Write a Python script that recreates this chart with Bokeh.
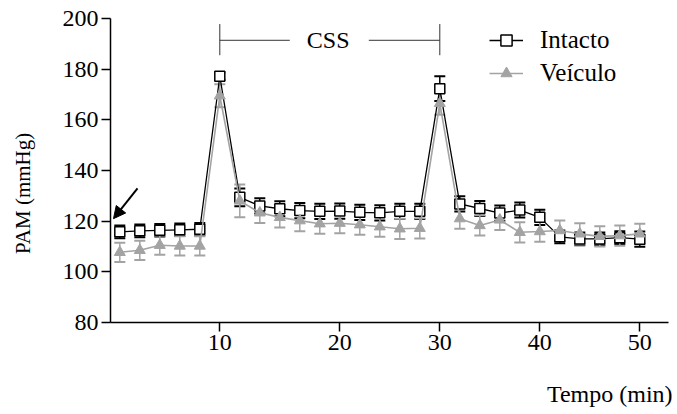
from bokeh.plotting import figure
from bokeh.models import (ColumnDataSource, Whisker, TeeHead, FixedTicker, Legend,
                          LegendItem, Label, Arrow, NormalHead, Range1d, LinearAxis)
from bokeh.embed import file_html
from bokeh.resources import INLINE

# sample index along the recording (plotted at even spacing)
sample = list(range(27))
tick_positions = [5, 11, 16, 21, 26]
tick_labels = ["10", "20", "30", "40", "50"]

intacto = [115.8, 116.2, 116.4, 116.6, 116.8, 177.2, 129.4, 126.0, 124.9, 124.2,
           123.9, 124.0, 123.5, 123.3, 123.9, 123.9, 172.3, 126.8, 125.0, 123.2,
           124.4, 121.5, 113.8, 113.0, 113.0, 113.5, 112.9]
intacto_sem = [2.5, 2.5, 2.5, 2.5, 2.5, 1.5, 3.5, 3.0, 3.0, 3.0,
               3.0, 3.0, 3.0, 3.0, 3.0, 3.0, 4.9, 3.0, 3.0, 3.0,
               3.0, 3.0, 2.5, 2.5, 2.5, 2.5, 3.0]
veiculo = [107.7, 108.5, 110.5, 110.2, 110.2, 169.5, 128.0, 123.3, 121.5, 120.2,
           119.0, 119.2, 118.6, 117.8, 117.0, 117.2, 166.5, 121.0, 118.3, 120.5,
           115.6, 115.9, 116.3, 115.0, 114.0, 114.3, 115.0]
veiculo_sem = [3.8, 3.8, 3.8, 3.8, 3.8, 4.5, 6.5, 4.0, 4.0, 4.2,
               4.0, 4.0, 4.0, 4.0, 4.0, 4.0, 4.5, 4.0, 4.0, 4.0,
               4.0, 4.0, 4.0, 4.2, 4.0, 4.0, 4.0]

x_title = "Tempo (min)"
y_title = "PAM (mmHg)"

GRAY = "#a3a3a3"
FONT = "'Liberation Serif', 'Times New Roman', Times, serif"
FS = "24px"

src_i = ColumnDataSource(dict(x=sample, y=intacto,
                              lo=[v - e for v, e in zip(intacto, intacto_sem)],
                              hi=[v + e for v, e in zip(intacto, intacto_sem)]))
src_v = ColumnDataSource(dict(x=sample, y=veiculo,
                              lo=[v - e for v, e in zip(veiculo, veiculo_sem)],
                              hi=[v + e for v, e in zip(veiculo, veiculo_sem)]))

p = figure(width=677, height=414, output_backend="svg", toolbar_location=None,
           x_range=Range1d(-0.465, 27.435), y_range=Range1d(80, 200),
           min_border_left=110, min_border_right=9, min_border_top=18,
           min_border_bottom=92, title=None)
p.grid.visible = False
p.outline_line_color = None
p.background_fill_color = "white"
p.border_fill_color = "white"

for ax in (p.xaxis[0], p.yaxis[0]):
    ax.axis_line_width = 1.5
    ax.axis_line_color = "black"
    ax.major_tick_line_width = 1.5
    ax.major_tick_line_color = "black"
    ax.major_tick_out = 9
    ax.major_tick_in = 0
    ax.minor_tick_line_color = None
    ax.major_label_text_font = FONT
    ax.major_label_text_font_size = FS
    ax.major_label_text_color = "black"

p.xaxis[0].ticker = FixedTicker(ticks=tick_positions)
p.xaxis[0].major_label_overrides = {t: l for t, l in zip(tick_positions, tick_labels)}
p.xaxis[0].major_label_standoff = 3
p.yaxis[0].ticker = FixedTicker(ticks=[80, 100, 120, 140, 160, 180, 200])
p.yaxis[0].major_label_standoff = 3

# axis titles placed as single-label outer axes (right-aligned x title, offset y title)
x_title_pos = 24.5
y_title_pos = 131
xt = LinearAxis(ticker=FixedTicker(ticks=[x_title_pos]),
                major_label_overrides={x_title_pos: x_title},
                axis_line_color=None, major_tick_line_color=None,
                minor_tick_line_color=None, major_tick_out=0, major_tick_in=0,
                major_label_standoff=28,
                major_label_text_font=FONT, major_label_text_font_size=FS,
                major_label_text_color="black")
p.add_layout(xt, "below")
yt = LinearAxis(ticker=FixedTicker(ticks=[y_title_pos]),
                major_label_overrides={y_title_pos: y_title},
                major_label_orientation="vertical",
                axis_line_color=None, major_tick_line_color=None,
                minor_tick_line_color=None, major_tick_out=0, major_tick_in=0,
                major_label_standoff=24,
                major_label_text_font=FONT, major_label_text_font_size="21px",
                major_label_text_color="black")
p.add_layout(yt, "left")

# error bars
w_i = Whisker(base="x", lower="lo", upper="hi", source=src_i, line_color="black",
              line_width=1.5,
              upper_head=TeeHead(size=11, line_color="black", line_width=2),
              lower_head=TeeHead(size=11, line_color="black", line_width=2))
w_v = Whisker(base="x", lower="lo", upper="hi", source=src_v, line_color=GRAY,
              line_width=1.5,
              upper_head=TeeHead(size=11, line_color=GRAY, line_width=2),
              lower_head=TeeHead(size=11, line_color=GRAY, line_width=2))
p.add_layout(w_i)
p.add_layout(w_v)

li = p.line("x", "y", source=src_i, line_color="black", line_width=1.3)
si = p.scatter("x", "y", source=src_i, marker="square", size=10,
               fill_color="white", line_color="black", line_width=1.5)
lv = p.line("x", "y", source=src_v, line_color=GRAY, line_width=1.6)
sv = p.scatter("x", "y", source=src_v, marker="triangle", size=11,
               fill_color=GRAY, line_color=GRAY, line_width=1)

# CSS bracket
p.segment(x0=[5, 16, 5, 12.45], y0=[185.5, 185.5, 191.4, 191.4],
          x1=[5, 16, 8.5, 16], y1=[197.8, 197.8, 191.4, 191.4],
          line_color="#333333", line_width=1)
p.add_layout(Label(x=10.42, y=191.4, text="CSS", text_align="center",
                   text_baseline="middle", text_font=FONT,
                   text_font_size=FS, text_color="black"))

# arrow pointing at the first sample
p.add_layout(Arrow(x_start=0.885, y_start=132.9, x_end=-0.315, y_end=121.0,
                   line_width=2, line_color="black",
                   end=NormalHead(size=12, fill_color="black", line_color="black")))

legend = Legend(items=[LegendItem(label="Intacto", renderers=[li, si]),
                       LegendItem(label="Veículo", renderers=[lv, sv])],
                location=(379, 235), padding=0, margin=0, spacing=5,
                glyph_width=34, glyph_height=28, label_height=28,
                label_standoff=17, label_text_font=FONT,
                label_text_font_size="25px", label_text_color="black",
                border_line_alpha=0, background_fill_alpha=0)
p.add_layout(legend)

open("out.html", "w").write(file_html(p, INLINE))
